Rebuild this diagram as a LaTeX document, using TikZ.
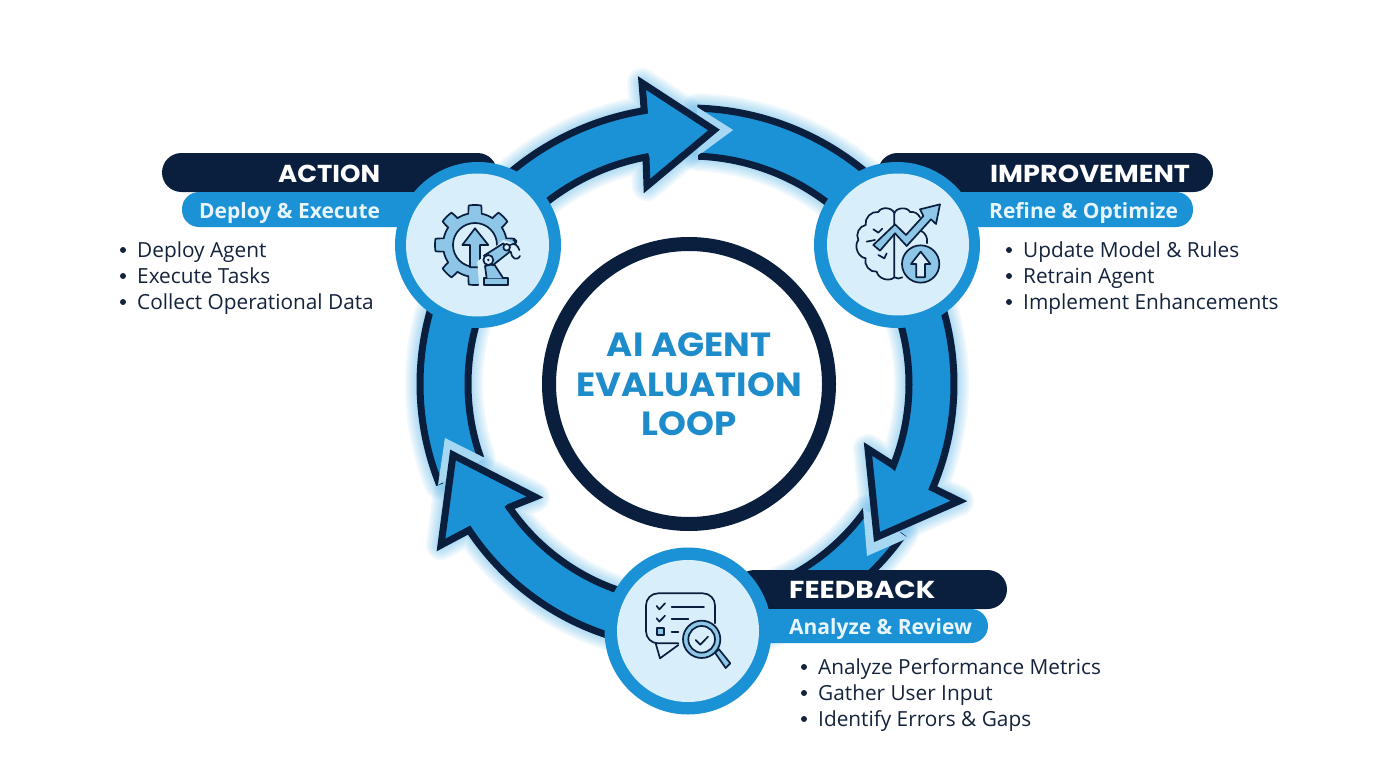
\documentclass[tikz,border=0pt]{standalone}
\usepackage{fontspec}
\setmainfont{Open Sans}
\newfontfamily\headfont[FakeStretch=1.06]{Poppins}
\newfontfamily\headwide[FakeStretch=1.11]{Poppins}
\newfontfamily\headwider[FakeStretch=1.145]{Poppins}
\newfontfamily\subfont{Open Sans}
\definecolor{navy}{HTML}{0A1F3D}
\definecolor{mainblue}{HTML}{1B92D6}
\definecolor{paleblue}{HTML}{D8EEFA}
\definecolor{midblue}{HTML}{8EC6E8}
\definecolor{halo}{HTML}{A6D8F4}
\definecolor{glowblue}{HTML}{3FA9E8}
\definecolor{bodyink}{HTML}{14233C}
\definecolor{titleblue}{HTML}{1E8BCB}
\def\ringpt#1#2{({689+#1*cos(#2)},{384+#1*sin(#2)})}
\def\ringarc#1#2#3{-- plot[domain=#2:#3,samples=40] ({689+#1*cos(\x)},{384+#1*sin(\x)})}
% shafts + heads
\def\HeadA{\ringpt{277}{-135}\ringarc{277}{-135}{-99.3} -- (642,83) -- (714,130) -- (647,186) -- (646,158)\ringarc{231}{-100.8}{-135}}
\def\HeadB{\ringpt{265}{-25}\ringarc{265}{-25}{23.1} -- (959,501) -- (877,537) -- (868,449) -- (893,465)\ringarc{220}{21.7}{-25}}
\def\HeadC{\ringpt{264}{100}\ringarc{264}{100}{146.4} -- (441,545) -- (453,455) -- (535,497) -- (510,507)\ringarc{218}{145.5}{100}}
% tails: open edges
\def\TailAo{\ringpt{276}{-88.3}\ringarc{276}{-88.3}{-40}}
\def\TailAi{\ringpt{228}{-87.7}\ringarc{228}{-87.7}{-40}}
\def\TailBo{\ringpt{262}{35}\ringarc{262}{35}{90}}
\def\TailBi{\ringpt{217}{35.5}\ringarc{217}{35.5}{90}}
\def\TailCo{\ringpt{269}{158}\ringarc{269}{158}{205}}
\def\TailCi{\ringpt{221}{160.5}\ringarc{221}{160.5}{205}}
\def\TailAf{\ringpt{276}{-88.3}\ringarc{276}{-88.3}{-40}\ringarc{228}{-40}{-87.7} -- (733,130) -- cycle}
\def\TailBf{\ringpt{262}{35}\ringarc{262}{35}{90}\ringarc{217}{90}{35.5} -- (867,556) -- cycle}
\def\TailCf{\ringpt{269}{158}\ringarc{269}{158}{205}\ringarc{221}{205}{160.5} -- (445,438) -- cycle}
\tikzset{
  glowline/.style={draw=glowblue,line join=round,opacity=0.075},
  edgeline/.style={draw=navy,line width=7pt,miter limit=12},
  iconline/.style={draw=navy,line width=1.7pt,line join=round,line cap=round},
  iconfill/.style={iconline,fill=midblue},
  iconpale/.style={iconline,fill=paleblue},
  headtext/.style={inner sep=0pt,anchor=base west,text=white,font=\headfont\bfseries\fontsize{24.5}{28}\selectfont},
  headtextw/.style={inner sep=0pt,anchor=base west,text=white,font=\headwide\bfseries\fontsize{24.5}{28}\selectfont},
  headtextx/.style={inner sep=0pt,anchor=base west,text=white,font=\headwider\bfseries\fontsize{24.5}{28}\selectfont},
  subtext/.style={inner sep=0pt,anchor=base west,text=paleblue!60!white,font=\subfont\bfseries\fontsize{21}{24}\selectfont},
  bodytext/.style={inner sep=0pt,anchor=base west,text=bodyink,font=\fontsize{20.8}{24}\selectfont},
  titletext/.style={inner sep=0pt,anchor=base,text=titleblue,font=\headfont\bfseries\fontsize{33.5}{38}\selectfont},
  bulletdot/.style={fill=bodyink},
}
\begin{document}
\begin{tikzpicture}[x=1pt,y=-1pt]
\useasboundingbox (0,0) rectangle (1376,768);
\fill[white] (0,0) rectangle (1376,768);
% glow
\foreach \w in {30,26,22,18,14,10}{
  \draw[glowline,line width=\w pt] \TailAf;
  \draw[glowline,line width=\w pt] \TailBf;
  \draw[glowline,line width=\w pt] \TailCf;
  \draw[glowline,line width=\w pt] \HeadA -- cycle;
  \draw[glowline,line width=\w pt] \HeadB -- cycle;
  \draw[glowline,line width=\w pt] \HeadC -- cycle;
}
% central ring
\node[circle,draw=navy,line width=14pt,minimum size=280pt,fill=white,inner sep=0pt] (core) at (689,384) {};
\node[titletext] (t1) at (689,356) {AI AGENT};
\node[titletext] (t2) at (689,396) {EVALUATION};
\node[titletext] (t3) at (689,435) {LOOP};
% tails
\fill[mainblue] \TailAf; \fill[mainblue] \TailBf; \fill[mainblue] \TailCf;
\draw[edgeline] \TailAo; \draw[edgeline] \TailAi;
\draw[edgeline] \TailBo; \draw[edgeline] \TailBi;
\draw[edgeline] \TailCo; \draw[edgeline] \TailCi;
% halo chevrons
\fill[halo] (697,107) -- (733,130) -- (698,155) -- cycle;
\fill[halo] (863,508) -- (867,556) -- (908,538) -- cycle;
\fill[halo] (438,485) -- (445,438) -- (485,458) -- cycle;
% heads
\fill[mainblue] \HeadA -- cycle;
\fill[mainblue] \HeadB -- cycle;
\fill[mainblue] \HeadC -- cycle;
\draw[edgeline] \HeadA;
\draw[edgeline] \HeadB;
\draw[edgeline] \HeadC;
% pills
\fill[navy,rounded corners=19.5pt] (162,153) rectangle (497,192);
\fill[mainblue,rounded corners=17pt] (182,192) rectangle (440,227);
\fill[mainblue] (300,192) rectangle (440,210);
\fill[navy,rounded corners=19.5pt] (878,153) rectangle (1213,192);
\fill[mainblue,rounded corners=17pt] (860,192) rectangle (1193,227);
\fill[mainblue] (860,192) rectangle (1100,210);
\fill[navy,rounded corners=19.5pt] (735,570) rectangle (1007,609);
\fill[mainblue,rounded corners=17pt] (735,609) rectangle (988,643);
\fill[mainblue] (735,609) rectangle (900,625);
% circles
\path[fill=mainblue] (478,245) circle[radius=83];
\path[fill=paleblue] (477.5,245) circle[radius=71.5];
\path[fill=mainblue] (897,245) circle[radius=83];
\path[fill=paleblue] (898,244.5) circle[radius=71];
\path[fill=mainblue] (688,631) circle[radius=83.5];
\path[fill=paleblue] (688,631) circle[radius=71];
% texts
\node[headtext] (ah) at (278,182) {ACTION};
\node[subtext] (as) at (199,218) {Deploy \& Execute};
\node[bodytext] (a1) at (137,257) {Deploy Agent};
\node[bodytext] (a2) at (137,283) {Execute Tasks};
\node[bodytext] (a3) at (137,309) {Collect Operational Data};
\foreach \yy in {250,276,302} \fill[bulletdot] (123,\yy) circle[radius=3];
\node[headtextw] (ih) at (990,182) {IMPROVEMENT};
\node[subtext] (is) at (989,218) {Refine \& Optimize};
\node[bodytext] (i1) at (1023,257) {Update Model \& Rules};
\node[bodytext] (i2) at (1023,283) {Retrain Agent};
\node[bodytext] (i3) at (1023,309) {Implement Enhancements};
\foreach \yy in {250,276,302} \fill[bulletdot] (1009,\yy) circle[radius=3];
\node[headtextx] (fh) at (789,598) {FEEDBACK};
\node[subtext] (fs) at (789,634) {Analyze \& Review};
\node[bodytext] (f1) at (818,674) {Analyze Performance Metrics};
\node[bodytext] (f2) at (818,700) {Gather User Input};
\node[bodytext] (f3) at (818,726) {Identify Errors \& Gaps};
\foreach \yy in {667,693,719} \fill[bulletdot] (804,\yy) circle[radius=3];
% gear icon
\begin{scope}[shift={(420,190)},x=0.3333pt,y=-0.3333pt]
  \draw[iconfill] plot[domain=0:360,samples=241] ({165+(96+24*min(1,max(0,2.6*cos(8*\x)+0.25)))*cos(\x)},{165+(96+24*min(1,max(0,2.6*cos(8*\x)+0.25)))*sin(\x)}) -- cycle;
  \draw[iconpale] (165,165) circle[radius=66];
  \draw[iconfill] (165,115) -- (205,165) -- (180,165) -- (180,232) -- (150,232) -- (150,165) -- (127,165) -- cycle;
  % robot arm, with a pale surround
  \fill[paleblue] (172,215) -- (250,150) -- (310,170) -- (310,225) -- (275,225) -- (280,295) -- (178,295) -- cycle;
  \draw[iconfill] (192,265) rectangle (265,285);
  \draw[iconfill] (200,265) -- (195,228) -- (222,222) -- (250,265);
  \draw[iconfill] (192,197) -- (250,160) -- (270,185) -- (218,226) -- cycle;
  \draw[iconpale] (205,210) circle[radius=15];
  \fill[navy] (205,210) circle[radius=4];
  \draw[iconpale] (260,172) circle[radius=10];
  \draw[iconline] (270,165) .. controls (285,155) and (295,170) .. (298,180);
  \draw[iconline] (272,185) .. controls (275,205) and (290,215) .. (300,198);
  \draw[iconline] (280,150) .. controls (290,148) and (292,155) .. (286,160);
\end{scope}
% brain icon
\begin{scope}[shift={(845,190)},x=0.3333pt,y=-0.3333pt]
  \draw[iconline] (148,70) to[bend right=70] (100,66) to[bend right=55] (62,105)
     to[bend right=55] (40,150) to[bend right=60] (62,205) to[bend right=60] (95,245)
     to[bend right=60] (148,262) -- cycle;
  \draw[iconline] (148,70) to[bend left=70] (195,66) to[bend left=35] (225,82);
  \draw[iconline] (228,122) to[bend left=35] (246,160);
  \draw[iconline] (148,262) to[bend right=30] (172,262);
  \draw[iconline] (85,118) -- (100,128) (100,128) -- (112,116);
  \draw[iconline] (65,155) -- (90,150);
  \draw[iconline] (100,195) -- (118,205) -- (125,190);
  \draw[iconfill] (85,165) -- (150,103) -- (183,135) -- (235,78) -- (225,58) -- (285,43) -- (273,102) -- (258,88) -- (185,168) -- (150,130) -- (105,182) -- cycle;
  \draw[iconfill] (227,222) circle[radius=56];
  \draw[iconpale] (227,185) -- (256,222) -- (240,222) -- (240,262) -- (214,262) -- (214,222) -- (198,222) -- cycle;
\end{scope}
% review icon
\begin{scope}[shift={(635,580)},x=0.3333pt,y=-0.3333pt]
  \draw[iconline,rounded corners=12pt] (130,190) -- (33,190) -- (33,40) -- (240,40) -- (240,130);
  \draw[iconline,line join=round] (62,190) -- (75,235) -- (130,195);
  \draw[iconline] (65,78) -- (73,88) -- (90,70);
  \draw[iconline] (65,115) -- (73,125) -- (90,107);
  \draw[iconline] (110,80) -- (207,80);
  \draw[iconline] (110,117) -- (160,117);
  \draw[iconfill] (65,145) rectangle (88,165);
  \draw[iconline] (110,155) -- (130,155);
  \draw[iconfill] (240,218) -- (252,208) -- (286,250) -- (272,264) -- cycle;
  \draw[iconfill] (200,178) circle[radius=56];
  \draw[iconpale] (200,178) circle[radius=40];
  \draw[iconline] (182,180) -- (196,194) -- (219,170);
\end{scope}
\end{tikzpicture}
\end{document}
